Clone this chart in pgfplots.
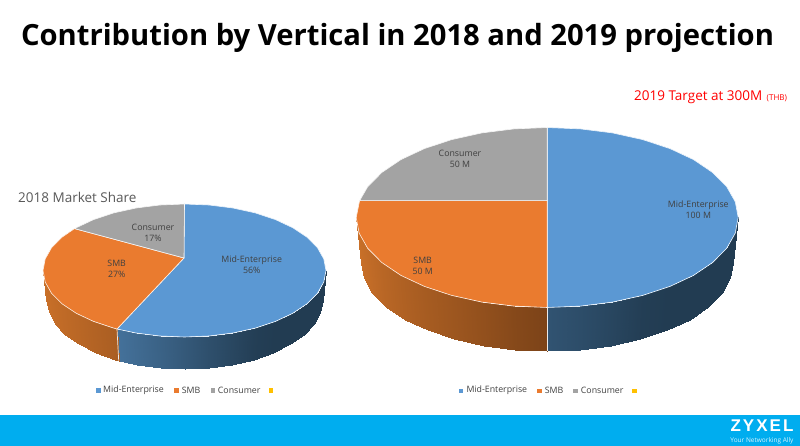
\documentclass[border=0pt]{standalone}
\usepackage{pgfplots}
\pgfplotsset{compat=1.18}
\usepgfplotslibrary{patchplots}
\usepackage{fontspec}
\setmainfont{Open Sans}
\newfontfamily\logofont[LetterSpace=12]{Liberation Sans}
\definecolor{cblue}{HTML}{5B98D3}
\definecolor{corange}{HTML}{EA7B2F}
\definecolor{cgray}{HTML}{A3A3A3}
\definecolor{cyellow}{HTML}{FFC000}
\definecolor{ctext}{HTML}{404040}
\definecolor{cfoot}{HTML}{00ADEF}
\newcommand{\lab}{\fontsize{8.8}{11}\selectfont\color{ctext}}
\begin{document}
\begin{tikzpicture}
\begin{axis}[
  scale only axis, width=800pt, height=446pt,
  xmin=0, xmax=800, ymin=0, ymax=446, y dir=reverse,
  hide axis,
  point meta min=0, point meta max=201,
  colormap={side}{rgb255(0)=(68,113,154) rgb255(100)=(34,60,82) rgb255(101)=(201,112,41) rgb255(201)=(124,67,24)},
  sidepatch/.style={patch, patch type=rectangle, shader=interp, point meta=\thisrow{c}},
]
% footer
\addplot[fill=cfoot, draw=none] coordinates {(0,415)(800,415)(800,446)(0,446)} -- cycle;
% left pie side
\addplot[sidepatch] table {
x y c
117 329 0
136.1 333 12
137.3 364.8 12
118.7 360.7 0
136.1 333 12
159.9 336 28
160.5 368 28
137.3 364.8 12
159.9 336 28
184.5 337 46
184.5 369 46
160.5 368 28
184.5 337 46
209.1 336 64
208.5 368 64
184.5 369 46
209.1 336 64
232.9 333 80
231.7 364.8 80
208.5 368 64
232.9 333 80
255.3 328.1 95
253.5 359.8 95
231.7 364.8 80
255.3 328.1 95
275.5 321.4 100
273.2 352.9 100
253.5 359.8 95
275.5 321.4 100
292.9 313.2 100
290.2 344.4 100
273.2 352.9 100
292.9 313.2 100
307 303.8 100
304 334.5 100
290.2 344.4 100
307 303.8 100
317.5 293.2 100
314.2 323.6 100
304 334.5 100
317.5 293.2 100
323.8 282 100
320.4 312 100
314.2 323.6 100
323.8 282 100
326 270.5 100
322.5 300 100
320.4 312 100
43 270.5 101
45.2 282 103
48.6 312 103
46.5 300 101
45.2 282 103
51.5 293.2 108
54.8 323.6 108
48.6 312 103
51.5 293.2 108
62 303.8 114
65 334.5 114
54.8 323.6 108
62 303.8 114
76.1 313.2 121
78.8 344.4 121
65 334.5 114
76.1 313.2 121
93.5 321.4 130
95.8 352.9 130
78.8 344.4 121
93.5 321.4 130
113.7 328.1 140
115.5 359.8 140
95.8 352.9 130
113.7 328.1 140
117 329 144
118.7 360.7 144
115.5 359.8 140
};
% right pie side
\addplot[sidepatch] table {
x y c
547.2 307.5 56
580.4 306.1 68
579.5 349.7 68
547.2 351 56
580.4 306.1 68
612.5 302.1 82
610.8 345.7 82
579.5 349.7 68
612.5 302.1 82
642.7 295.4 96
640.2 339.2 96
610.8 345.7 82
642.7 295.4 96
670 286.4 100
666.8 330.4 100
640.2 339.2 96
670 286.4 100
693.5 275.4 100
689.7 319.6 100
666.8 330.4 100
693.5 275.4 100
712.6 262.5 100
708.3 307 100
689.7 319.6 100
712.6 262.5 100
726.7 248.3 100
722 293.1 100
708.3 307 100
726.7 248.3 100
735.3 233.1 100
730.4 278.3 100
722 293.1 100
735.3 233.1 100
738.2 217.5 100
733.2 263 100
730.4 278.3 100
356.2 217.5 101
359.1 233.1 104
364 278.3 104
361.2 263 101
359.1 233.1 104
367.7 248.3 112
372.4 293.1 112
364 278.3 104
367.7 248.3 112
381.8 262.5 123
386.1 307 123
372.4 293.1 112
381.8 262.5 123
400.9 275.4 134
404.7 319.6 134
386.1 307 123
400.9 275.4 134
424.4 286.4 146
427.6 330.4 146
404.7 319.6 134
424.4 286.4 146
451.7 295.4 158
454.2 339.2 158
427.6 330.4 146
451.7 295.4 158
481.9 302.1 172
483.6 345.7 172
454.2 339.2 158
481.9 302.1 172
514 306.1 188
514.9 349.7 188
483.6 345.7 172
514 306.1 188
547.2 307.5 201
547.2 351 201
514.9 349.7 188
};
% side separators
\addplot[color=white!92!black, line width=0.7pt] coordinates {(117,329)(118.7,360.7)};
\addplot[color=white!92!black, line width=0.7pt] coordinates {(547.2,307.5)(547.2,351)};
% left pie top
\addplot[fill=cblue, draw=white!90!cblue, line width=0.6pt] coordinates {(184,258)(184.5,204)(209.1,205)(232.9,208)(255.3,212.9)(275.5,219.6)(292.9,227.8)(307,237.2)(317.5,247.8)(323.8,259)(326,270.5)(323.8,282)(317.5,293.2)(307,303.8)(292.9,313.2)(275.5,321.4)(255.3,328.1)(232.9,333)(209.1,336)(184.5,337)(159.9,336)(136.1,333)(117,329)} -- cycle;
\addplot[fill=corange, draw=white!90!corange, line width=0.6pt] coordinates {(184,258)(117,329)(113.7,328.1)(93.5,321.4)(76.1,313.2)(62,303.8)(51.5,293.2)(45.2,282)(43,270.5)(45.2,259)(51.5,247.8)(62,237.2)(74.5,228.6)} -- cycle;
\addplot[fill=cgray, draw=white!90!cgray, line width=0.6pt] coordinates {(184,258)(74.5,228.6)(76.1,227.8)(93.5,219.6)(113.7,212.9)(136.1,208)(159.9,205)(184.5,204)} -- cycle;
% right pie top
\addplot[fill=cblue, draw=white!90!cblue, line width=0.6pt] coordinates {(547.2,200.7)(547.2,127.5)(580.4,128.9)(612.5,132.9)(642.7,139.6)(670,148.6)(693.5,159.6)(712.6,172.5)(726.7,186.7)(735.3,201.9)(738.2,217.5)(735.3,233.1)(726.7,248.3)(712.6,262.5)(693.5,275.4)(670,286.4)(642.7,295.4)(612.5,302.1)(580.4,306.1)(547.2,307.5)} -- cycle;
\addplot[fill=corange, draw=white!90!corange, line width=0.6pt] coordinates {(547.2,200.7)(547.2,307.5)(514,306.1)(481.9,302.1)(451.7,295.4)(424.4,286.4)(400.9,275.4)(381.8,262.5)(367.7,248.3)(359.1,233.1)(356.2,217.5)(359.6,200.7)} -- cycle;
\addplot[fill=cgray, draw=white!90!cgray, line width=0.6pt] coordinates {(547.2,200.7)(359.6,200.7)(367.7,186.7)(381.8,172.5)(400.9,159.6)(424.4,148.6)(451.7,139.6)(481.9,132.9)(514,128.9)(547.2,127.5)} -- cycle;
% legend markers
\addplot[only marks, mark=square*, mark size=1.8pt, color=cblue] coordinates {(98,390)(460.7,390.7)};
\addplot[only marks, mark=square*, mark size=1.8pt, color=corange] coordinates {(176,390)(539.3,390.7)};
\addplot[only marks, mark=square*, mark size=1.8pt, color=cgray] coordinates {(212.7,390)(575.3,390.7)};
\addplot[only marks, mark=square*, mark size=1.8pt, color=cyellow] coordinates {(270.7,390)(634.3,390.7)};
% title
\node[anchor=center, font=\fontsize{29.2}{34}\selectfont\bfseries] at (axis cs:397.5,38) {Contribution by Vertical in 2018 and 2019 projection};
\node[anchor=west, font=\fontsize{13.5}{16}\selectfont, text=red, inner sep=0pt] at (axis cs:634,97) {2019 Target at 300M\,\,\fontsize{8}{9}\selectfont(THB)};
\node[anchor=west, font=\fontsize{13.5}{16}\selectfont, text=black!65, inner sep=0pt] at (axis cs:18,197) {2018 Market Share};
% slice labels
\node[font=\lab, align=center, inner sep=0pt] at (axis cs:251.7,265) {Mid-Enterprise\\56\%};
\node[font=\lab, align=center, inner sep=0pt] at (axis cs:116.7,269) {SMB\\27\%};
\node[font=\lab, align=center, inner sep=0pt] at (axis cs:153,233.3) {Consumer\\17\%};
\node[font=\lab, align=center, inner sep=0pt] at (axis cs:698.3,210) {Mid-Enterprise\\100 M};
\node[font=\lab, align=center, inner sep=0pt] at (axis cs:422.7,266) {SMB\\50 M};
\node[font=\lab, align=center, inner sep=0pt] at (axis cs:460,159) {Consumer\\50 M};
% legends
\node[anchor=west, font=\lab, inner sep=0pt] at (axis cs:103,390) {Mid-Enterprise};
\node[anchor=west, font=\lab, inner sep=0pt] at (axis cs:181.7,390) {SMB};
\node[anchor=west, font=\lab, inner sep=0pt] at (axis cs:217.7,390) {Consumer};
\node[anchor=west, font=\lab, inner sep=0pt] at (axis cs:466.3,390.7) {Mid-Enterprise};
\node[anchor=west, font=\lab, inner sep=0pt] at (axis cs:544.7,390.7) {SMB};
\node[anchor=west, font=\lab, inner sep=0pt] at (axis cs:580.7,390.7) {Consumer};
% logo
\node[anchor=center, font=\logofont\fontsize{17}{18}\selectfont\bfseries, text=white, inner sep=0pt] at (axis cs:762,426) {ZYXEL};
\node[anchor=center, font=\fontsize{6.5}{7}\selectfont, text=white!85!cfoot, inner sep=0pt] at (axis cs:762,440.5) {Your Networking Ally};
\end{axis}
\pgfresetboundingbox
\useasboundingbox (0,0) rectangle (800pt,446pt);
\end{tikzpicture}
\end{document}
